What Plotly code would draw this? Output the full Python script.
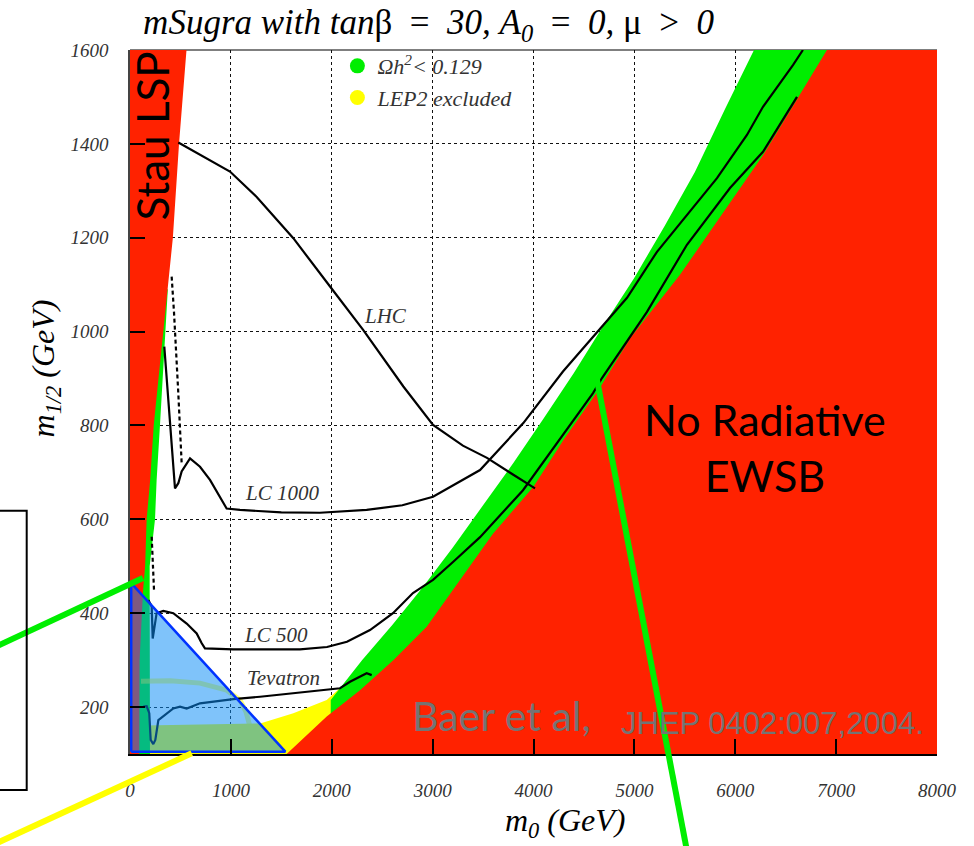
import plotly.graph_objects as go

# ---------------- data ----------------
# Stau LSP excluded region (red), right boundary
stau_red_m12 = [100, 300, 450, 500, 600, 684, 800, 1000, 1200, 1400, 1600]
stau_red_m0 = [92, 95, 130, 150, 165, 200, 235, 330, 425, 486, 560]
# Relic-density strip along the stau region (green), right boundary
stau_green_m12 = [100, 450, 500, 600, 684, 800, 1000, 1090]
stau_green_m0 = [198, 195, 195, 248, 264, 297, 354, 375]

# No radiative EWSB region (red), left boundary
ewsb_m0 = [1553, 1800, 1950, 2280, 2478, 2610, 2941, 3170, 3600, 3998, 4300, 4650, 4957, 5452, 6017, 6275, 6909]
ewsb_m12 = [100, 150, 180, 236, 275, 300, 371, 440, 570, 669, 770, 877, 986, 1121, 1297, 1376, 1600]
# Focus-point relic band (green), upper-left boundary
gband_m0 = [1990, 2300, 2600, 2900, 3200, 3500, 3800, 4100, 4400, 4700, 5000, 5300, 5600, 5900, 6186]
gband_m12 = [215, 300, 375, 455, 540, 630, 720, 815, 912, 1015, 1115, 1225, 1340, 1475, 1600]
# LEP2 excluded (yellow), upper boundary
lep_m0 = [0, 1290, 1619, 1950, 2280, 2610, 2941, 3172, 3635, 3982, 4070]
lep_m12 = [160, 165, 187, 215, 279, 357, 428, 471, 592, 684, 690]
# faint LEP2 contour seen through the blue overlay
lep_arc_m0 = [109, 400, 694, 958, 1090, 1150, 1190]
lep_arc_m12 = [255, 256, 251, 236, 215, 190, 158]

# reach curves
lhc_m0 = [479, 727, 991, 1256, 1619, 1983, 2313, 2710, 3004, 3300, 3539, 3800, 4015]
lhc_m12 = [1403, 1373, 1341, 1287, 1199, 1096, 1003, 883, 801, 757, 731, 695, 666]

lc1000_m0 = [340, 380, 413, 446, 479, 512, 595, 694, 793, 892, 958, 1090, 1500, 1883, 2346, 2700, 3004,
             3470, 3899, 4292, 4629, 4927, 5224, 5551, 5819, 6116, 6275, 6572, 6671]
lc1000_m12 = [968, 854, 776, 666, 677, 702, 730, 712, 684, 648, 623, 620, 615, 614, 620, 630, 648,
              705, 805, 915, 999, 1072, 1170, 1255, 1327, 1419, 1479, 1568, 1600]
lc1000_dash_m0 = [413, 436, 479, 502, 512]
lc1000_dash_m12 = [1117, 1042, 868, 755, 720]

lc500_m0 = [182, 215, 225, 264, 330, 429, 562, 661, 711, 743, 1024, 1685, 1953, 2151, 2379, 2607, 2805,
            3004, 3202, 3470, 3896, 4590, 4679, 5125, 5521, 5948, 6275, 6612]
lc500_m12 = [428, 414, 346, 400, 405, 400, 378, 357, 336, 325, 323, 323, 328, 339, 364, 400, 443,
             471, 509, 562, 662, 869, 901, 1042, 1185, 1306, 1383, 1500]
lc500_dash_m0 = [215, 225, 238]
lc500_dash_m12 = [563, 500, 449]

tev_m0 = [132, 165, 191, 205, 231, 251, 281, 364, 429, 496, 562, 694, 859, 1024, 1289, 1619, 1950,
          2082, 2181, 2280, 2346, 2396]
tev_m12 = [201, 202, 187, 130, 121, 130, 172, 187, 197, 201, 197, 208, 213, 217, 222, 229, 236,
           240, 254, 265, 272, 268]

# highlighted triangle overlay
tri_m0 = [12, 12, 1540, 12]
tri_m12 = [105, 464, 105, 105]

x_range = [0, 8000]
y_range = [100, 1600]
curve_labels = ["LHC", "LC 1000", "LC 500", "Tevatron"]
curve_label_m0 = [2528, 1507, 1448, 1517]
curve_label_m12 = [1033, 656, 354, 262]

RED = "#ff2200"
GREEN = "#00ee00"
YELLOW = "#ffff00"
SERIF = "Liberation Serif, Times New Roman, serif"
SANS = "Lato"

fig = go.Figure()

def region(xs, ys, color):
    fig.add_trace(go.Scatter(x=xs, y=ys, mode="lines", fill="toself", fillcolor=color,
                             line=dict(width=0, color=color), hoverinfo="skip", showlegend=False))

# LEP2 yellow
region(lep_m0 + [8000, 8000, 0], lep_m12 + [690, 100, 100], YELLOW)
# green band
region([gband_m0[0]] + gband_m0 + [8000, 8000], [100] + gband_m12 + [1600, 100], GREEN)
# EWSB red
region(ewsb_m0 + [8000, 8000], ewsb_m12 + [1600, 100], RED)
# stau green strip
region([0] + stau_green_m0 + [0], [100] + stau_green_m12 + [stau_green_m12[-1]], GREEN)
# stau red
region([0] + stau_red_m0 + [0], [100] + stau_red_m12 + [1600], RED)

# faint LEP2 contour
fig.add_trace(go.Scatter(x=lep_arc_m0, y=lep_arc_m12, mode="lines", opacity=0.55,
                         line=dict(color=YELLOW, width=5), hoverinfo="skip", showlegend=False))

def curve(xs, ys, dash="solid"):
    fig.add_trace(go.Scatter(x=xs, y=ys, mode="lines", line=dict(color="black", width=2.2, dash=dash),
                             hoverinfo="skip", showlegend=False))

curve(lhc_m0, lhc_m12)
curve(lc1000_m0, lc1000_m12)
curve(lc1000_dash_m0, lc1000_dash_m12, "4px,3px")
curve(lc500_m0, lc500_m12)
curve(lc500_dash_m0, lc500_dash_m12, "4px,3px")
curve(tev_m0, tev_m12)

# blue triangle overlay
fig.add_trace(go.Scatter(x=tri_m0, y=tri_m12, mode="lines", fill="toself",
                         fillcolor="rgba(10,140,245,0.52)", line=dict(color="#0033ff", width=2.5),
                         hoverinfo="skip", showlegend=False))

# legend entries
fig.add_trace(go.Scatter(x=[None], y=[None], mode="markers", name="Ωh<sup>2</sup>&lt; 0.129",
                         marker=dict(color=GREEN, size=15), legendgroup="a"))
fig.add_trace(go.Scatter(x=[None], y=[None], mode="markers", name="LEP2 excluded",
                         marker=dict(color=YELLOW, size=15), legendgroup="b"))

# curve labels
for t, xm, ym in zip(curve_labels, curve_label_m0, curve_label_m12):
    fig.add_annotation(x=xm, y=ym, text=t, showarrow=False,
                       font=dict(family=SERIF, size=21, color="#333", style="italic"))

fig.add_annotation(x=218, y=1418, text="Stau LSP", textangle=-90, showarrow=False,
                   font=dict(family=SANS, size=44, color="black"))
fig.add_annotation(x=6295, y=752, text="No Radiative<br>EWSB", showarrow=False,
                   font=dict(family=SANS, size=43, color="black"))
fig.add_annotation(xref="paper", yref="paper", x=0.347, y=0.054, xanchor="left", yanchor="middle",
                   text="Baer et al,", showarrow=False, font=dict(family=SANS, size=41, color="#747474"))
fig.add_annotation(xref="paper", yref="paper", x=0.606, y=0.044, xanchor="left", yanchor="middle",
                   text="JHEP 0402:007,2004.", showarrow=False,
                   font=dict(family="Liberation Sans", size=31, color="#747474"))

# axis titles
fig.add_annotation(xref="paper", yref="paper", x=0.539, y=-0.0966, xanchor="center", yanchor="middle",
                   text="m<sub>0</sub> (GeV)", showarrow=False,
                   font=dict(family=SERIF, size=32, color="black", style="italic"))
fig.add_annotation(xref="paper", yref="paper", x=-0.105, y=0.548, xanchor="center", yanchor="middle",
                   text="m<sub>1/2</sub> (GeV)", showarrow=False, textangle=-90,
                   font=dict(family=SERIF, size=32, color="black", style="italic"))

# slide overlay lines and box (outside the frame)
fig.add_shape(type="line", xref="paper", yref="paper", x0=0.0161, y0=0.25, x1=-0.1859, y1=0.142,
              line=dict(color=GREEN, width=6), layer="above")
fig.add_shape(type="line", xref="paper", yref="paper", x0=0.0765, y0=0.001, x1=-0.1859, y1=-0.1376,
              line=dict(color=YELLOW, width=6), layer="above")
fig.add_shape(type="line", xref="paper", yref="paper", x0=0.5783, y0=0.5337, x1=0.6914, y1=-0.1449,
              line=dict(color=GREEN, width=6), layer="above")
fig.add_shape(type="rect", xref="paper", yref="paper", x0=-0.1735, x1=-0.128, y0=-0.0511, y1=0.3456,
              line=dict(color="black", width=2), layer="above")
fig.add_shape(type="line", xref="paper", yref="paper", x0=0, y0=1, x1=1, y1=1,
              line=dict(color="#555", width=1.5), layer="below")

SP = "&nbsp;&nbsp;"
title_text = ("<i>mSugra with tan</i>β" + SP + "=" + SP + "<i>30, A</i><sub><i>0</i></sub>" + SP + "=" + SP
              + "<i>0, </i>μ" + SP + "&gt;" + SP + "<i>0</i>")

tickfont = dict(family=SERIF, size=19, color="#333", style="italic")
fig.update_layout(
    width=974, height=846,
    margin=dict(l=130, r=37, t=50, b=92, autoexpand=False),
    paper_bgcolor="white", plot_bgcolor="white",
    title=dict(text=title_text,
               x=0.44, xanchor="center", y=0.974, yanchor="middle", yref="container",
               font=dict(family=SERIF, size=35, color="black")),
    legend=dict(x=0.257, y=1.007, xanchor="left", yanchor="top", bgcolor="rgba(0,0,0,0)",
                font=dict(family=SERIF, size=22, color="#333", style="italic"), tracegroupgap=0),
    xaxis=dict(range=x_range, tick0=0, dtick=1000, ticks="inside", ticklen=15, tickwidth=1.5,
               tickcolor="black", showline=True, linecolor="black", linewidth=1.5, automargin=False,
               showgrid=True, gridcolor="#111", griddash="3px,3px", gridwidth=1, zeroline=False,
               tickfont=tickfont, ticklabelstandoff=18),
    yaxis=dict(range=y_range, tick0=0, dtick=200, ticks="inside", ticklen=15, tickwidth=1.5,
               tickcolor="black", showline=True, linecolor="#444", linewidth=1.5, automargin=False,
               showgrid=True, gridcolor="#111", griddash="3px,3px", gridwidth=1, zeroline=False,
               tickfont=tickfont, ticklabelstandoff=16),
)

fig.write_html("out.html", config={"displayModeBar": False},
               post_script="document.body.style.margin='0px';")
